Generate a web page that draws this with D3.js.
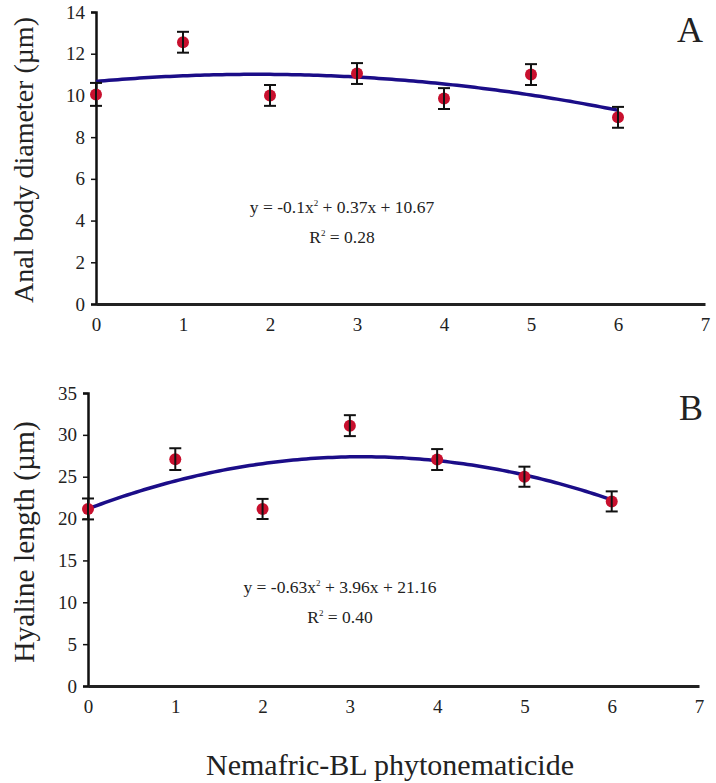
<!DOCTYPE html>
<html><head><meta charset="utf-8">
<script src="https://cdn.jsdelivr.net/npm/d3@7"></script>
<style>
body{margin:0;background:#fff;}
</style></head>
<body><svg id="c" width="716" height="783" font-family="Liberation Serif"></svg>
<script>
const doses = [0,1,2,3,4,5,6];
const xTicks = [0,1,2,3,4,5,6,7];
// Panel A: anal body diameter
const meansA = [10.05,12.55,10.0,11.05,9.85,11.0,8.95];
const errA   = [0.55,0.5,0.5,0.5,0.5,0.5,0.5];
const yTicksA = [0,2,4,6,8,10,12,14];
const coefA = [-0.1,0.37,10.67];
// Panel B: hyaline length
const meansB = [21.15,27.1,21.15,31.1,27.05,25.0,22.05];
const errB   = [1.25,1.3,1.2,1.25,1.25,1.2,1.2];
const yTicksB = [0,5,10,15,20,25,30,35];
const coefB = [-0.63,3.96,21.16];

const FONT = "Liberation Serif";
const svg = d3.select("#c");

function panel(o){
  const x = d3.scaleLinear().domain([0,7]).range([o.x0,o.x1]);
  const y = d3.scaleLinear().domain([0,o.ymax]).range([o.y0,o.y1]);
  const g = svg.append("g");
  // y axis
  const ya = d3.axisLeft(y).tickValues(o.yTicks).tickSize(5).tickPadding(6).tickFormat(d3.format("d"));
  const gy = g.append("g").attr("transform",`translate(${o.x0},0)`).call(ya);
  gy.attr("font-family",FONT).attr("font-size",19);
  gy.select(".domain").attr("stroke","#111").attr("stroke-width",2.5);
  gy.selectAll(".tick line").attr("stroke","#111").attr("stroke-width",1.5);
  gy.selectAll(".tick text").attr("fill","#222");
  // x axis
  const xa = d3.axisBottom(x).tickValues(xTicks).tickSize(0).tickPadding(14).tickFormat(d3.format("d"));
  const gx = g.append("g").attr("transform",`translate(0,${o.y0})`).call(xa);
  gx.attr("font-family",FONT).attr("font-size",19);
  gx.select(".domain").attr("stroke","#222").attr("stroke-width",3);
  gx.selectAll(".tick text").attr("fill","#222");
  // trendline from the printed regression equation
  const xs = d3.range(0,6.0001,0.05);
  const f = t => o.coef[0]*t*t + o.coef[1]*t + o.coef[2];
  g.append("path").datum(xs)
    .attr("d", d3.line().x(t=>x(t)).y(t=>y(f(t))))
    .attr("fill","none").attr("stroke","#1b0d88").attr("stroke-width",3.5);
  // points
  const pts = doses.map((d,i)=>({d, m:o.means[i], e:o.err[i]}));
  g.selectAll("circle.pt").data(pts).join("circle")
    .attr("cx",p=>x(p.d)).attr("cy",p=>y(p.m)).attr("r",6).attr("fill","#c8102e");
  const eb = g.selectAll("g.eb").data(pts).join("g").attr("stroke","#111").attr("stroke-width",2);
  eb.append("line").attr("x1",p=>x(p.d)).attr("x2",p=>x(p.d)).attr("y1",p=>y(p.m+p.e)).attr("y2",p=>y(p.m-p.e));
  eb.append("line").attr("x1",p=>x(p.d)-6).attr("x2",p=>x(p.d)+6).attr("y1",p=>y(p.m+p.e)).attr("y2",p=>y(p.m+p.e));
  eb.append("line").attr("x1",p=>x(p.d)-6).attr("x2",p=>x(p.d)+6).attr("y1",p=>y(p.m-p.e)).attr("y2",p=>y(p.m-p.e));
  // y title
  g.append("text").attr("transform",`translate(${o.titleX},${o.titleY}) rotate(-90)`)
    .attr("text-anchor","middle").attr("font-family",FONT).attr("font-size",o.titleSize).attr("fill","#222").text(o.title);
  // letter
  g.append("text").attr("x",703).attr("y",o.letterY).attr("text-anchor","end").attr("font-family",FONT).attr("font-size",36).attr("fill","#222").text(o.letter);
  // equation
  const eq = g.append("text").attr("x",o.eqX).attr("y",o.eqY).attr("text-anchor","middle").attr("font-family",FONT).attr("font-size",17.5).attr("fill","#222");
  eq.append("tspan").text(o.eq1);
  eq.append("tspan").attr("font-size",9).attr("dy",-7).text("2");
  eq.append("tspan").attr("dy",7).text(o.eq2);
  const r2 = g.append("text").attr("x",o.eqX).attr("y",o.eqY+30).attr("text-anchor","middle").attr("font-family",FONT).attr("font-size",17.5).attr("fill","#222");
  r2.append("tspan").text("R");
  r2.append("tspan").attr("font-size",9).attr("dy",-7).text("2");
  r2.append("tspan").attr("dy",7).text(o.r2);
}

panel({x0:96,x1:705,y0:304,y1:12,ymax:14,yTicks:yTicksA,means:meansA,err:errA,coef:coefA,
  title:"Anal body diameter (µm)",titleSize:28,titleX:33,titleY:160,letter:"A",letterY:42,
  eqX:342,eqY:213,eq1:"y = -0.1x",eq2:" + 0.37x + 10.67",r2:" = 0.28"});
panel({x0:88,x1:699,y0:686,y1:393,ymax:35,yTicks:yTicksB,means:meansB,err:errB,coef:coefB,
  title:"Hyaline length (µm)",titleSize:29.5,titleX:34,titleY:542,letter:"B",letterY:420,
  eqX:340,eqY:593,eq1:"y = -0.63x",eq2:" + 3.96x + 21.16",r2:" = 0.40"});

svg.append("text").attr("x",390).attr("y",775).attr("text-anchor","middle").attr("font-family",FONT).attr("font-size",30).attr("fill","#222").text("Nemafric-BL phytonematicide");
</script></body></html>
